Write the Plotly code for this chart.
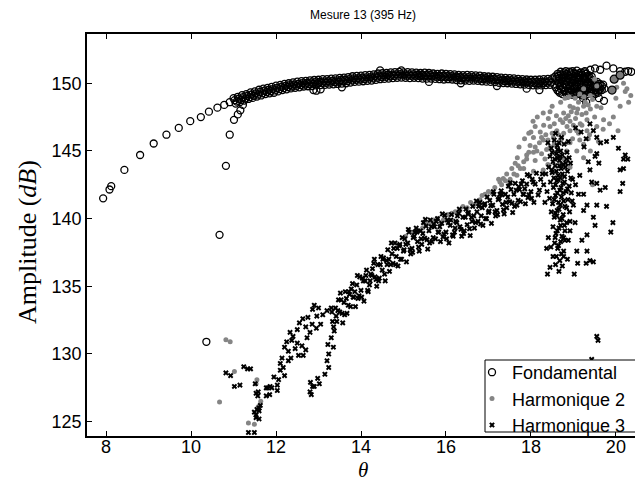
import plotly.graph_objects as go

# ---------------- Fondamental ----------------
# isolated points of the rising part and of the lower branch
fund_rise_x = [7.93, 8.08, 8.12, 8.43, 8.80, 9.12, 9.42, 9.71, 9.98, 10.23, 10.42, 10.62, 10.78, 10.91,
               10.36, 10.67, 10.82, 10.91, 11.01, 11.10, 11.16, 11.22]
fund_rise_y = [141.5, 142.15, 142.4, 143.6, 144.7, 145.55, 146.2, 146.7, 147.2, 147.5, 147.9, 148.2, 148.4, 148.6,
               130.9, 138.8, 143.9, 146.2, 147.3, 147.7, 148.0, 148.4]

# dense plateau (upper / lower edge alternately)
fund_band_x = [11.00, 11.05, 11.10, 11.15, 11.20, 11.25, 11.30, 11.35, 11.40, 11.45,
               11.50, 11.55, 11.60, 11.65, 11.70, 11.75, 11.80, 11.85, 11.90, 11.95,
               12.00, 12.05, 12.10, 12.15, 12.20, 12.25, 12.30, 12.35, 12.40, 12.45,
               12.50, 12.55, 12.60, 12.65, 12.70, 12.75, 12.80, 12.85, 12.90, 12.95,
               13.00, 13.05, 13.10, 13.15, 13.20, 13.25, 13.30, 13.35, 13.40, 13.45,
               13.50, 13.55, 13.60, 13.65, 13.70, 13.75, 13.80, 13.85, 13.90, 13.95,
               14.00, 14.05, 14.10, 14.15, 14.20, 14.25, 14.30, 14.35, 14.40, 14.45,
               14.50, 14.55, 14.60, 14.65, 14.70, 14.75, 14.80, 14.85, 14.90, 14.95,
               15.00, 15.05, 15.10, 15.15, 15.20, 15.25, 15.30, 15.35, 15.40, 15.45,
               15.50, 15.55, 15.60, 15.65, 15.70, 15.75, 15.80, 15.85, 15.90, 15.95,
               16.00, 16.05, 16.10, 16.15, 16.20, 16.25, 16.30, 16.35, 16.40, 16.45,
               16.50, 16.55, 16.60, 16.65, 16.70, 16.75, 16.80, 16.85, 16.90, 16.95,
               17.00, 17.05, 17.10, 17.15, 17.20, 17.25, 17.30, 17.35, 17.40, 17.45,
               17.50, 17.55, 17.60, 17.65, 17.70, 17.75, 17.80, 17.85, 17.90, 17.95,
               18.00, 18.05, 18.10, 18.15, 18.20, 18.25, 18.30, 18.35, 18.40, 18.45, 18.50]
fund_band_y = [148.90, 148.50, 149.00, 148.62, 149.12, 148.72, 149.20, 148.84, 149.32, 148.92,
               149.40, 149.02, 149.52, 149.10, 149.60, 149.20, 149.66, 149.26, 149.74, 149.30,
               149.82, 149.40, 149.88, 149.50, 149.96, 149.55, 150.00, 149.62, 150.06, 149.66,
               150.12, 149.70, 150.16, 149.76, 150.18, 149.78, 150.22, 149.80, 150.24, 149.84,
               150.26, 149.86, 150.30, 149.88, 150.30, 149.90, 150.34, 149.92, 150.36, 149.95,
               150.40, 149.98, 150.42, 150.00, 150.46, 150.05, 150.52, 150.10, 150.54, 150.12,
               150.56, 150.15, 150.60, 150.18, 150.62, 150.20, 150.66, 150.25, 150.72, 150.30,
               150.74, 150.32, 150.76, 150.35, 150.80, 150.38, 150.82, 150.40, 150.84, 150.42,
               150.80, 150.40, 150.82, 150.38, 150.80, 150.40, 150.78, 150.38, 150.76, 150.35,
               150.78, 150.34, 150.76, 150.35, 150.72, 150.32, 150.70, 150.30, 150.72, 150.28,
               150.70, 150.30, 150.68, 150.28, 150.66, 150.24, 150.62, 150.22, 150.60, 150.20,
               150.62, 150.18, 150.60, 150.20, 150.58, 150.18, 150.56, 150.14, 150.52, 150.12,
               150.50, 150.10, 150.48, 150.08, 150.46, 150.04, 150.42, 150.02, 150.40, 150.00,
               150.38, 149.98, 150.36, 149.95, 150.32, 149.92, 150.30, 149.90, 150.28, 149.88,
               150.26, 149.85, 150.26, 149.84, 150.28, 149.84, 150.30, 149.86, 150.32, 149.88, 150.36]

# middle of the plateau
fund_mid_x = [11.025, 11.075, 11.125, 11.175, 11.225, 11.275, 11.325, 11.375, 11.425, 11.475,
              11.525, 11.575, 11.625, 11.675, 11.725, 11.775, 11.825, 11.875, 11.925, 11.975,
              12.025, 12.075, 12.125, 12.175, 12.225, 12.275, 12.325, 12.375, 12.425, 12.475,
              12.525, 12.575, 12.625, 12.675, 12.725, 12.775, 12.825, 12.875, 12.925, 12.975,
              13.025, 13.075, 13.125, 13.175, 13.225, 13.275, 13.325, 13.375, 13.425, 13.475,
              13.525, 13.575, 13.625, 13.675, 13.725, 13.775, 13.825, 13.875, 13.925, 13.975,
              14.025, 14.075, 14.125, 14.175, 14.225, 14.275, 14.325, 14.375, 14.425, 14.475,
              14.525, 14.575, 14.625, 14.675, 14.725, 14.775, 14.825, 14.875, 14.925, 14.975,
              15.025, 15.075, 15.125, 15.175, 15.225, 15.275, 15.325, 15.375, 15.425, 15.475,
              15.525, 15.575, 15.625, 15.675, 15.725, 15.775, 15.825, 15.875, 15.925, 15.975,
              16.025, 16.075, 16.125, 16.175, 16.225, 16.275, 16.325, 16.375, 16.425, 16.475,
              16.525, 16.575, 16.625, 16.675, 16.725, 16.775, 16.825, 16.875, 16.925, 16.975,
              17.025, 17.075, 17.125, 17.175, 17.225, 17.275, 17.325, 17.375, 17.425, 17.475,
              17.525, 17.575, 17.625, 17.675, 17.725, 17.775, 17.825, 17.875, 17.925, 17.975,
              18.025, 18.075, 18.125, 18.175, 18.225, 18.275, 18.325, 18.375, 18.425, 18.475]
fund_mid_y = [148.75, 148.65, 148.86, 148.76, 148.97, 148.87, 149.07, 148.97, 149.17, 149.07,
              149.26, 149.16, 149.36, 149.26, 149.45, 149.35, 149.51, 149.41, 149.57, 149.47,
              149.66, 149.56, 149.74, 149.64, 149.81, 149.71, 149.86, 149.76, 149.91, 149.81,
              149.96, 149.86, 150.01, 149.91, 150.03, 149.93, 150.06, 149.96, 150.09, 149.99,
              150.11, 150.01, 150.14, 150.04, 150.15, 150.05, 150.18, 150.08, 150.21, 150.11,
              150.24, 150.14, 150.26, 150.16, 150.31, 150.21, 150.36, 150.26, 150.38, 150.28,
              150.41, 150.31, 150.44, 150.34, 150.46, 150.36, 150.51, 150.41, 150.56, 150.46,
              150.58, 150.48, 150.61, 150.51, 150.64, 150.54, 150.66, 150.56, 150.68, 150.58,
              150.65, 150.55, 150.65, 150.55, 150.65, 150.55, 150.63, 150.53, 150.61, 150.51,
              150.61, 150.51, 150.61, 150.51, 150.57, 150.47, 150.55, 150.45, 150.55, 150.45,
              150.55, 150.45, 150.53, 150.43, 150.50, 150.40, 150.47, 150.37, 150.45, 150.35,
              150.45, 150.35, 150.45, 150.35, 150.43, 150.33, 150.40, 150.30, 150.37, 150.27,
              150.35, 150.25, 150.33, 150.23, 150.30, 150.20, 150.27, 150.17, 150.25, 150.15,
              150.23, 150.13, 150.21, 150.11, 150.17, 150.07, 150.15, 150.05, 150.13, 150.03,
              150.11, 150.01, 150.10, 150.00, 150.11, 150.01, 150.13, 150.03, 150.15, 150.05]

# wide end of the plateau, upper arc and stray points
fund_end_x = [18.55, 18.57, 18.62, 18.61, 18.63, 18.68, 18.69, 18.67, 18.70,
              18.74, 18.75, 18.73, 18.76, 18.80, 18.81, 18.79, 18.82,
              18.86, 18.87, 18.85, 18.88, 18.92, 18.93, 18.91, 18.94,
              18.98, 18.99, 18.97, 19.00, 18.98, 19.04, 19.05, 19.03, 19.06,
              19.10, 19.11, 19.09, 19.12, 19.16, 19.17, 19.15, 19.18,
              19.22, 19.23, 19.21, 19.24, 19.28, 19.29, 19.27, 19.30,
              19.34, 19.35, 19.33, 19.36, 19.40, 19.41, 19.39, 19.46, 19.47, 19.45,
              19.52, 19.53, 19.58, 19.59, 19.64, 19.70,
              19.08, 19.27, 19.40, 19.51, 19.63, 19.78, 19.94, 20.10, 20.22, 20.29, 20.36,
              19.23, 19.30, 19.72, 19.51, 19.67, 19.60,
              12.88, 12.95, 13.05, 13.55, 14.45, 14.95, 15.60, 16.35, 17.20, 17.90, 18.20]
fund_end_y = [149.9, 150.5, 149.5, 150.2, 150.7, 149.3, 149.8, 150.4, 150.85,
              149.2, 149.7, 150.2, 150.6, 149.4, 149.9, 150.4, 150.9,
              149.1, 149.6, 150.1, 150.6, 149.3, 149.8, 150.3, 150.8,
              149.15, 149.6, 150.0, 150.5, 150.9, 149.4, 149.9, 150.3, 150.7,
              149.2, 149.6, 150.1, 150.6, 149.4, 149.9, 150.4, 150.8,
              149.1, 149.5, 150.0, 150.5, 149.3, 149.8, 150.3, 150.7,
              149.2, 149.6, 150.1, 150.6, 149.4, 149.9, 150.4, 149.3, 149.7, 150.2,
              149.5, 150.0, 149.3, 149.8, 149.6, 149.9,
              150.93, 150.9, 151.0, 151.1, 151.0, 151.3, 151.1, 150.9, 150.85, 150.9, 150.85,
              148.9, 148.6, 148.7, 149.2, 149.5, 148.9,
              149.5, 149.45, 149.55, 149.7, 150.95, 150.95, 150.1, 150.0, 149.8, 149.6, 149.5]

fund_end2_x = [18.58, 18.60, 18.65, 18.66, 18.65, 18.71, 18.72, 18.71, 18.77, 18.78, 18.77, 18.78,
               18.83, 18.84, 18.83, 18.84, 18.89, 18.90, 18.89, 18.90, 18.95, 18.96, 18.95,
               19.01, 19.02, 19.01, 19.02, 19.07, 19.08, 19.07, 19.13, 19.14, 19.13, 19.14,
               19.19, 19.20, 19.19, 19.20, 19.25, 19.26, 19.25, 19.26, 19.31, 19.32, 19.31,
               19.37, 19.38, 19.37, 19.43, 19.44, 19.43, 19.49, 19.50, 19.55, 19.56,
               19.61, 19.62, 19.67, 19.73]
fund_end2_y = [149.7, 150.35, 149.4, 150.0, 150.55, 149.55, 150.1, 150.65, 149.45, 149.95, 150.45, 150.8,
               149.25, 149.75, 150.2, 150.7, 149.4, 149.9, 150.4, 150.85, 149.5, 150.2, 150.65,
               149.3, 149.8, 150.2, 150.75, 149.3, 149.75, 150.45, 149.45, 149.95, 150.35, 150.75,
               149.25, 149.7, 150.2, 150.65, 149.4, 149.9, 150.35, 150.8, 149.45, 149.95, 150.5,
               149.35, 149.8, 150.3, 149.55, 150.05, 150.5, 149.45, 149.9, 149.6, 150.1,
               149.5, 149.95, 149.8, 149.6]

# shaded circles at the far end
fund_shaded_x = [19.91, 19.96, 20.10]
fund_shaded_y = [149.5, 150.3, 150.6]

# ---------------- Harmonique 2 ----------------
h2_low_x = [10.67, 10.82, 10.92, 11.02, 11.35, 11.49, 11.53, 11.55, 11.64, 11.58]
h2_low_y = [126.45, 131.06, 130.9, 128.7, 124.9, 124.8, 127.8, 128.1, 126.5, 126.1]

h2_edge_x = [15.45, 15.55, 15.70, 15.94, 15.98, 16.14, 16.33, 16.65, 16.73, 16.92,
             17.24, 17.31, 17.35, 17.43, 17.50, 17.55, 17.63, 17.75, 17.83, 17.90,
             18.06, 19.45, 18.92,
             15.05, 15.20, 15.35, 15.62, 15.80, 15.88, 16.05, 16.22, 16.40, 16.50,
             16.58, 16.80, 16.85, 17.00, 17.08, 17.15, 17.40, 17.60, 17.70, 17.68,
             17.95, 17.72]
h2_edge_y = [139.3, 139.6, 139.9, 139.9, 140.2, 140.4, 140.6, 141.0, 141.1, 141.8,
             142.9, 142.5, 142.96, 143.3, 142.6, 143.7, 144.1, 143.7, 144.2, 144.4,
             144.9, 142.5, 143.8,
             138.7, 139.0, 139.1, 139.7, 140.0, 139.7, 140.3, 140.5, 140.9, 140.8,
             141.2, 141.4, 141.7, 142.0, 141.9, 142.3, 142.8, 143.3, 143.9, 144.5,
             144.9, 145.3]

h2_cluster_x = [19.04, 19.12, 18.92, 19.24, 19.08, 19.40, 19.55, 18.77, 18.69, 18.92,
                19.16, 19.32, 18.41, 18.29, 18.45, 18.61, 18.77, 18.92, 19.12, 19.32,
                18.22, 18.06, 18.29, 18.53, 18.69, 18.92, 19.24, 17.98, 18.14, 18.37,
                18.61, 18.84, 19.08, 17.90, 18.10, 18.33, 18.77, 19.24, 17.83, 18.06,
                17.67, 17.51, 17.27, 18.29, 19.40, 19.55, 19.71, 19.94, 20.10, 20.18,
                20.22, 20.02, 20.26, 19.59, 19.40, 19.24, 19.50, 19.55,
                18.00, 18.10, 18.15, 18.20, 18.25, 18.35, 18.40, 18.45, 18.50, 18.55,
                18.60, 18.65, 18.70, 18.75, 18.80, 18.85, 18.88, 18.95, 19.00, 19.00,
                19.05, 19.10, 19.15, 19.20, 19.20, 19.28, 19.30, 19.35, 19.38, 19.45,
                18.30, 18.50, 18.55, 18.45, 18.72, 18.82, 18.98, 19.08, 19.25, 19.15,
                18.90, 17.85, 17.95, 18.05, 18.10, 18.25, 18.40, 18.70, 18.85, 19.35,
                19.50, 19.65, 19.70, 19.85, 20.00, 20.05, 20.30, 20.35]
h2_cluster_y = [148.89, 148.6, 148.3, 148.3, 147.8, 148.1, 148.3, 147.8, 147.3, 147.2,
                147.0, 147.3, 147.4, 147.8, 146.8, 146.5, 146.3, 146.5, 146.3, 146.5,
                146.4, 146.0, 145.8, 146.0, 145.8, 145.6, 145.5, 145.4, 145.0, 145.1,
                145.3, 145.0, 145.0, 144.7, 144.3, 144.4, 144.4, 144.5, 143.7, 143.5,
                143.2, 142.9, 142.7, 143.6, 145.0, 146.8, 147.3, 147.5, 148.3, 150.0,
                149.4, 149.7, 149.6, 145.7, 149.1, 149.6, 150.3, 149.8,
                146.4, 146.8, 147.5, 145.6, 144.8, 146.2, 145.8, 147.9, 148.3, 147.0,
                147.6, 146.2, 148.6, 147.1, 148.9, 146.8, 147.6, 147.9, 148.2, 146.9,
                147.4, 148.1, 145.8, 146.9, 147.7, 148.6, 147.8, 148.4, 146.2, 148.8,
                146.9, 146.3, 145.5, 145.3, 145.9, 147.4, 145.9, 146.5, 149.0, 149.2,
                149.0, 145.9, 146.3, 147.2, 145.3, 146.0, 144.0, 144.1, 145.6, 145.9,
                147.5, 148.2, 146.6, 147.0, 148.9, 146.5, 148.6, 149.1]

# ---------------- Harmonique 3 ----------------
h3_low_x = [10.82, 10.93, 11.02, 11.15, 11.24, 11.33, 11.40, 11.35, 11.49,
            11.49, 11.53, 11.60, 11.53, 11.60, 11.55, 11.63, 11.60, 11.57, 11.53, 11.58, 11.51,
            11.77, 11.77, 11.86, 11.80, 11.90, 12.03, 12.03, 12.06, 12.20, 12.10, 12.10, 12.14,
            12.29, 12.29, 12.37, 12.33, 12.45, 12.53, 12.61, 12.64, 12.73, 12.80, 12.63,
            12.86, 12.96, 13.10, 13.20, 12.50, 12.55, 12.70, 12.75, 12.90, 13.00, 12.95,
            13.05, 12.85, 12.40, 12.20, 12.25, 12.17, 12.50, 12.70, 12.35, 11.95, 11.85,
            12.80, 12.83, 12.86, 12.90, 13.02, 12.81, 12.98, 13.15, 13.24, 13.20, 13.24,
            13.22, 13.30, 13.35]
h3_low_y = [128.6, 128.4, 127.6, 127.7, 129.06, 128.9, 128.9, 124.2, 124.2,
            125.7, 125.5, 125.8, 125.3, 125.2, 125.9, 126.2, 126.0, 126.9, 127.1, 127.2, 127.8,
            126.9, 127.5, 127.6, 127.5, 127.5, 127.7, 127.3, 128.1, 128.4, 128.8, 129.3, 129.7,
            129.5, 130.2, 131.0, 131.6, 130.4, 129.9, 130.6, 129.9, 131.2, 131.6, 132.6,
            133.3, 132.8, 132.9, 133.2, 131.8, 132.3, 132.0, 132.7, 133.6, 133.4, 131.9,
            132.2, 132.2, 131.3, 130.5, 130.9, 129.0, 130.8, 130.3, 129.7, 128.3, 127.0,
            127.2, 127.0, 127.6, 127.6, 127.8, 127.9, 128.2, 128.5, 129.0, 129.5, 130.0,
            130.7, 131.2, 130.5]

h3_band_x = [13.30, 13.33, 13.37, 13.40, 13.43, 13.47, 13.50, 13.53, 13.57, 13.60, 13.63, 13.67,
             13.70, 13.73, 13.77, 13.80, 13.83, 13.87, 13.90, 13.93, 13.97, 14.00, 14.03, 14.07,
             14.10, 14.13, 14.17, 14.20, 14.23, 14.27, 14.30, 14.33, 14.37, 14.40, 14.43, 14.47,
             14.50, 14.53, 14.57, 14.60, 14.63, 14.67, 14.70, 14.73, 14.77, 14.80, 14.83, 14.87,
             14.90, 14.93, 14.97, 15.00, 15.03, 15.07, 15.10, 15.13, 15.17, 15.20, 15.23, 15.27,
             15.30, 15.33, 15.37, 15.40, 15.43, 15.47, 15.50, 15.53, 15.57, 15.60, 15.63, 15.67,
             15.70, 15.73, 15.77, 15.80, 15.83, 15.87, 15.90, 15.93, 15.97, 16.00, 16.03, 16.07,
             16.10, 16.13, 16.17, 16.20, 16.23, 16.27, 16.30, 16.33, 16.37, 16.40, 16.43, 16.47,
             16.50, 16.53, 16.57, 16.60, 16.63, 16.67, 16.70, 16.73, 16.77, 16.80, 16.83, 16.87,
             16.90, 16.93, 16.97, 17.00, 17.03, 17.07, 17.10, 17.13, 17.17, 17.20, 17.23, 17.27,
             17.30, 17.33, 17.37, 17.40, 17.43, 17.47, 17.50, 17.53, 17.57, 17.60, 17.63, 17.67,
             17.70, 17.73, 17.77, 17.80, 17.83, 17.87, 17.90, 17.93, 17.97, 18.00, 18.03, 18.07,
             18.10, 18.13, 18.17, 18.20, 18.23, 18.27]
h3_band_y = [133.4, 132.4, 131.7, 133.4, 132.4, 134.0, 133.1, 134.0, 132.3, 133.8, 134.6, 133.0,
             133.6, 134.4, 134.8, 135.2, 134.2, 133.5, 135.1, 134.1, 135.7, 134.7, 135.6, 133.9,
             135.4, 136.2, 134.6, 135.1, 135.9, 136.3, 136.7, 135.7, 135.0, 136.6, 135.6, 137.2,
             136.2, 137.1, 135.4, 136.9, 137.7, 136.1, 136.6, 137.4, 137.8, 138.2, 137.2, 136.5,
             138.0, 137.0, 138.6, 137.6, 138.5, 136.8, 138.2, 139.0, 137.4, 137.8, 138.6, 139.0,
             139.3, 138.3, 137.6, 139.1, 138.1, 139.7, 138.55, 139.45, 137.75, 139.1, 139.9, 138.3,
             138.6, 139.4, 139.8, 140.0, 139.0, 138.3, 139.65, 138.65, 140.25, 139.0, 139.9, 138.2,
             139.5, 140.3, 138.7, 139.0, 139.8, 140.2, 140.4, 139.4, 138.7, 140.1, 139.1, 140.7,
             139.55, 140.45, 138.75, 140.1, 140.9, 139.3, 139.7, 140.5, 140.9, 141.2, 140.2, 139.5,
             141.0, 140.0, 141.6, 140.45, 141.35, 139.65, 141.0, 141.8, 140.2, 140.6, 141.4, 141.8,
             142.05, 141.05, 140.35, 141.8, 140.8, 142.4, 141.25, 142.15, 140.45, 141.8, 142.6, 141.0,
             141.35, 142.15, 142.55, 142.8, 141.8, 141.1, 142.55, 141.55, 143.15, 142.0, 142.9, 141.2,
             142.55, 143.35, 141.75, 142.1, 142.9, 143.3]

h3_band2_x = [13.315, 13.355, 13.415, 13.455, 13.515, 13.555, 13.615, 13.655, 13.715, 13.755,
              13.815, 13.855, 13.915, 13.955, 14.015, 14.055, 14.115, 14.155, 14.215, 14.255,
              14.315, 14.355, 14.415, 14.455, 14.515, 14.555, 14.615, 14.655, 14.715, 14.755,
              14.815, 14.855, 14.915, 14.955, 15.015, 15.055, 15.115, 15.155, 15.215, 15.255,
              15.315, 15.355, 15.415, 15.455, 15.515, 15.555, 15.615, 15.655, 15.715, 15.755,
              15.815, 15.855, 15.915, 15.955, 16.015, 16.055, 16.115, 16.155, 16.215, 16.255,
              16.315, 16.355, 16.415, 16.455, 16.515, 16.555, 16.615, 16.655, 16.715, 16.755,
              16.815, 16.855, 16.915, 16.955, 17.015, 17.055, 17.115, 17.155, 17.215, 17.255,
              17.315, 17.355, 17.415, 17.455, 17.515, 17.555, 17.615, 17.655, 17.715, 17.755,
              17.815, 17.855, 17.915, 17.955, 18.015, 18.055]
h3_band2_y = [133.1, 132.0, 132.8, 133.2, 134.5, 133.0, 132.9, 134.1, 134.6, 133.5,
              134.2, 134.6, 135.8, 134.3, 134.2, 135.4, 135.8, 134.7, 135.4, 135.8,
              137.0, 135.5, 135.4, 136.6, 137.0, 135.9, 136.6, 137.0, 138.2, 136.7,
              136.6, 137.8, 138.1, 137.0, 137.7, 138.1, 139.2, 137.7, 137.5, 138.7,
              139.0, 137.9, 138.5, 138.9, 139.95, 138.45, 138.2, 139.4, 139.6, 138.5,
              139.0, 139.4, 140.35, 138.85, 138.5, 139.7, 139.9, 138.8, 139.3, 139.7,
              140.7, 139.2, 138.9, 140.1, 140.35, 139.25, 139.8, 140.2, 141.3, 139.8,
              139.6, 140.8, 141.1, 140.0, 140.55, 140.95, 142.0, 140.5, 140.3, 141.5,
              141.75, 140.65, 141.2, 141.6, 142.65, 141.15, 140.9, 142.1, 142.35, 141.25,
              141.8, 142.2, 143.25, 141.75, 141.5, 142.7]

h3_cluster_x = [18.40, 18.48, 18.55, 18.62, 18.70, 18.78, 18.85, 18.45, 18.52, 18.60,
                18.67, 18.74, 18.82, 18.90, 18.42, 18.50, 18.57, 18.64, 18.71, 18.79,
                18.86, 18.94, 18.46, 18.53, 18.61, 18.68, 18.75, 18.83, 18.90, 18.38,
                18.44, 18.51, 18.58, 18.65, 18.72, 18.80, 18.87, 18.48, 18.55, 18.62,
                18.69, 18.76, 18.84, 18.52, 18.59, 18.66, 18.73, 18.80, 18.56, 18.63,
                18.70, 18.77, 18.60, 18.68, 18.74, 18.66, 18.58, 18.47, 18.41, 18.92,
                18.95, 18.98, 18.93, 18.88, 18.35, 18.30, 18.33, 18.72, 18.58, 18.66,
                18.63, 18.69, 18.54, 18.76, 18.61,
                18.50, 18.56, 18.63, 18.69, 18.76, 18.84, 18.49, 18.60, 18.67, 18.74,
                18.81, 18.58, 18.64, 18.71, 18.79, 18.86, 18.55, 18.62, 18.69, 18.77,
                18.84, 18.58, 18.66, 18.73, 18.79, 18.62, 18.70, 18.57, 18.65, 18.72,
                18.80, 18.91, 18.97]
h3_cluster_y = [145.6, 145.2, 145.8, 145.4, 145.0, 145.5, 144.9, 144.6, 144.2, 144.8,
                144.3, 144.7, 144.1, 144.5, 143.8, 143.4, 143.9, 143.2, 143.7, 143.1,
                143.5, 143.0, 142.7, 142.3, 142.8, 142.1, 142.6, 142.0, 142.4, 142.0,
                141.5, 141.1, 141.7, 141.2, 141.6, 140.9, 141.4, 140.5, 140.1, 140.6,
                139.9, 140.3, 139.7, 139.4, 138.9, 139.3, 138.7, 139.1, 138.2, 137.8,
                138.3, 137.6, 137.2, 136.9, 136.5, 136.1, 136.6, 137.9, 138.6, 139.8,
                141.9, 142.9, 144.1, 145.7, 143.3, 142.5, 141.2, 146.0, 146.3, 145.6,
                144.5, 143.0, 143.0, 141.9, 140.2,
                144.9, 144.4, 145.1, 144.6, 144.0, 144.4, 143.6, 143.5, 143.9, 143.3,
                143.8, 142.5, 142.9, 142.3, 142.7, 142.2, 141.4, 141.9, 141.0, 141.3,
                140.8, 140.4, 140.7, 140.0, 139.5, 139.1, 139.5, 138.6, 138.0, 137.4,
                138.4, 140.5, 141.3]

h3_scatter_x = [18.37, 18.45, 18.39, 19.02, 18.52, 18.77, 18.86, 19.10, 19.30, 19.39,
                19.47, 19.32, 19.08, 19.20, 19.32, 18.92, 18.77, 18.88, 19.04, 19.24,
                19.32, 19.55, 19.47, 19.51, 19.78, 19.93, 19.88, 20.10, 20.16, 20.18,
                20.22, 20.28, 19.63, 19.75, 19.55, 19.43, 19.24, 19.12, 19.39, 19.60,
                19.51, 19.55, 19.39, 19.47, 19.55, 19.94, 19.78, 20.06, 20.18, 20.10,
                19.64, 19.25, 19.18, 19.35, 19.30, 19.05, 19.00, 19.05, 19.15,
                19.55, 19.58, 19.43]
h3_scatter_y = [137.8, 136.4, 135.9, 135.9, 137.2, 137.2, 137.0, 136.7, 136.7, 136.9,
                136.8, 137.6, 137.6, 138.4, 138.8, 139.1, 138.6, 138.4, 139.7, 140.6,
                141.0, 141.0, 140.1, 139.5, 140.9, 139.7, 139.0, 142.0, 142.6, 143.7,
                144.7, 144.4, 142.1, 142.3, 142.6, 142.7, 141.8, 141.8, 143.6, 144.1,
                144.6, 144.8, 147.0, 146.5, 146.0, 146.0, 145.7, 145.2, 144.4, 143.6,
                145.6, 145.3, 146.4, 144.2, 145.9, 146.7, 141.0, 142.5, 143.2,
                131.3, 131.0, 129.6]

fund_x = fund_rise_x + fund_band_x + fund_mid_x + fund_end_x + fund_end2_x
fund_y = fund_rise_y + fund_band_y + fund_mid_y + fund_end_y + fund_end2_y
h2_x = h2_low_x + h2_edge_x + h2_cluster_x
h2_y = h2_low_y + h2_edge_y + h2_cluster_y
h3_x = h3_low_x + h3_band_x + h3_band2_x + h3_cluster_x + h3_scatter_x
h3_y = h3_low_y + h3_band_y + h3_band2_y + h3_cluster_y + h3_scatter_y

x_ticks = [8, 10, 12, 14, 16, 18, 20]
y_ticks = [125, 130, 135, 140, 145, 150]

SANS = "Liberation Sans, Arial, sans-serif"
SERIF = "Liberation Serif, Times New Roman, serif"

fig = go.Figure()
fig.add_trace(go.Scatter(
    x=fund_x, y=fund_y, mode="markers", name="Fondamental",
    marker=dict(symbol="circle-open", size=7, color="black", line=dict(width=1.3)),
))
fig.add_trace(go.Scatter(
    x=h2_x, y=h2_y, mode="markers", name="Harmonique 2",
    marker=dict(symbol="circle", size=5, color="#858585", line=dict(width=0)),
))
fig.add_trace(go.Scatter(
    x=fund_shaded_x, y=fund_shaded_y, mode="markers", showlegend=False,
    marker=dict(symbol="circle", size=8, color="#7a7a7a", line=dict(width=1.2, color="black")),
))
fig.add_trace(go.Scatter(
    x=h3_x, y=h3_y, mode="markers", name="Harmonique 3",
    marker=dict(symbol="x", size=5, color="black", line=dict(width=0)),
))

W, H = 635, 484
L, R, T, B = 87, 0, 34, 48
pw, ph = W - L - R, H - T - B

def px_x(p):
    return (p - L) / pw

def px_y(p):
    return (H - B - p) / ph

axis_common = dict(
    showgrid=False, zeroline=False, showline=True, linecolor="black", linewidth=1.5,
    ticks="inside", ticklen=5, tickwidth=1, tickcolor="black",
    tickfont=dict(family=SANS, size=18, color="black"),
)

fig.update_layout(
    width=W, height=H,
    margin=dict(l=L, r=R, t=T, b=B, pad=0),
    paper_bgcolor="white", plot_bgcolor="white",
    xaxis=dict(range=[7.55, 20.45], tickvals=x_ticks, mirror="ticks",
               ticklabelstandoff=-6, **axis_common),
    yaxis=dict(range=[123.94, 153.64], tickvals=y_ticks, mirror=False, **axis_common),
    showlegend=True,
    legend=dict(
        x=px_x(472), y=px_y(354), xanchor="left", yanchor="top",
        bgcolor="rgba(0,0,0,0)", borderwidth=0,
        font=dict(family=SANS, size=18, color="black"),
        tracegroupgap=0, itemsizing="trace",
    ),
    shapes=[dict(
        type="rect", xref="paper", yref="paper",
        x0=px_x(485), x1=px_x(645), y0=px_y(432), y1=px_y(360),
        fillcolor="white", line=dict(color="black", width=1), layer="above",
    )],
    annotations=[
        dict(text="Mesure 13 (395 Hz)", xref="paper", yref="paper",
             x=px_x(363), y=px_y(15), xanchor="center", yanchor="middle", showarrow=False,
             font=dict(family=SANS, size=12, color="black")),
        dict(text="Amplitude (<i>dB</i>)", xref="paper", yref="paper",
             x=px_x(27), y=px_y(242), xanchor="center", yanchor="middle", showarrow=False,
             textangle=-90, font=dict(family=SERIF, size=26, color="black")),
        dict(text="<i>θ</i>", xref="paper", yref="paper",
             x=px_x(363), y=px_y(484), xanchor="center", yanchor="bottom", showarrow=False,
             font=dict(family=SERIF, size=21, color="black")),
    ],
)

fig.write_html("out.html")
